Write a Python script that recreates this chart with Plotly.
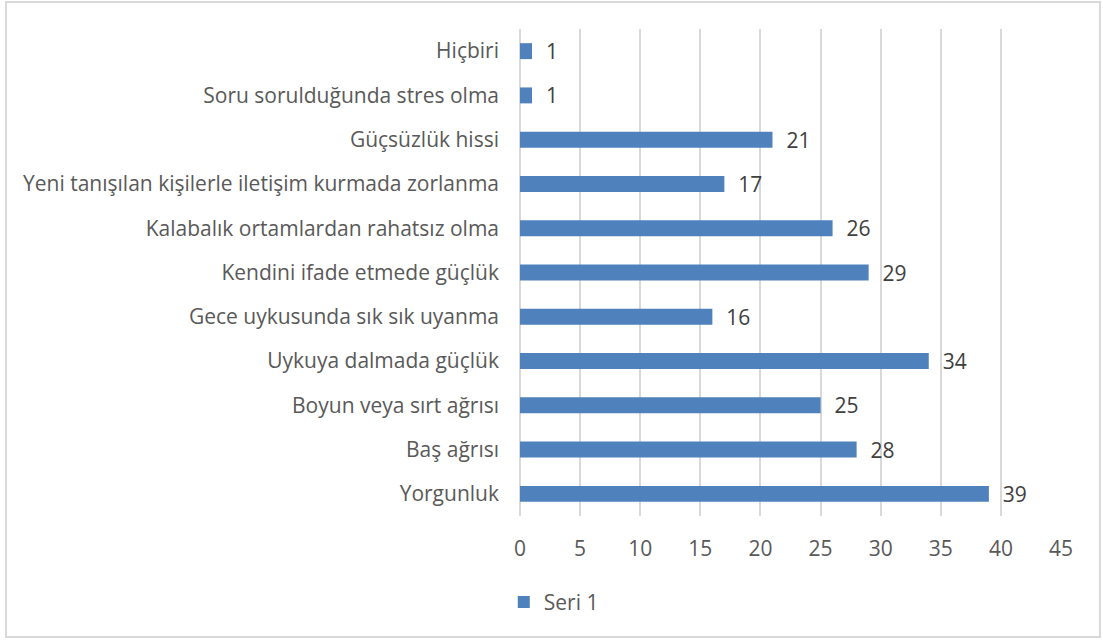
import plotly.graph_objects as go

categories = ["Yorgunluk", "Baş ağrısı", "Boyun veya sırt ağrısı", "Uykuya dalmada güçlük",
              "Gece uykusunda sık sık uyanma", "Kendini ifade etmede güçlük",
              "Kalabalık ortamlardan rahatsız olma",
              "Yeni tanışılan kişilerle iletişim kurmada zorlanma",
              "Güçsüzlük hissi", "Soru sorulduğunda stres olma", "Hiçbiri"]
values = [39, 28, 25, 34, 16, 29, 26, 17, 21, 1, 1]
series_name = "Seri 1"
tick_vals = [0, 5, 10, 15, 20, 25, 30, 35, 40, 45]

FONT = "Open Sans, Liberation Sans, Arial"
TXT = "#595959"
FS = 21

fig = go.Figure(go.Bar(
    y=categories, x=values, orientation="h", name=series_name,
    marker=dict(color="#4F81BD", line=dict(width=0)),
    width=0.36,
    text=values, texttemplate="\u00a0\u00a0%{text}", textposition="outside",
    cliponaxis=False, constraintext="none",
    textfont=dict(family=FONT, size=FS, color="#404040"),
    showlegend=True,
))

fig.update_layout(
    width=1103, height=640,
    paper_bgcolor="white", plot_bgcolor="white",
    margin=dict(l=520, r=42, t=29, b=124, autoexpand=False),
    font=dict(family=FONT, size=FS, color=TXT),
    xaxis=dict(range=[0, 45], tickvals=tick_vals, showgrid=True, gridcolor="#D9D9D9",
               gridwidth=2, zeroline=True, zerolinecolor="#D9D9D9", zerolinewidth=2,
               showline=False, ticks="", automargin=False, ticklabelstandoff=18,
               tickfont=dict(family=FONT, size=FS, color=TXT)),
    yaxis=dict(categoryorder="array", categoryarray=categories, showgrid=False,
               ticks="", automargin=False, ticklabelstandoff=20,
               tickfont=dict(family=FONT, size=FS, color=TXT)),
    legend=dict(orientation="h", x=-0.03, xanchor="left", y=-0.135, yanchor="top",
                font=dict(family=FONT, size=FS, color=TXT), itemwidth=30),
    shapes=[dict(type="rect", xref="paper", yref="paper", x0=-0.950, x1=1.072,
                 y0=-0.2485, y1=1.0554, line=dict(color="#D9D9D9", width=2))],
)
fig.write_html("out.html", config={"displayModeBar": False},
               post_script="document.body.style.margin='0';document.body.style.overflow='hidden';")
